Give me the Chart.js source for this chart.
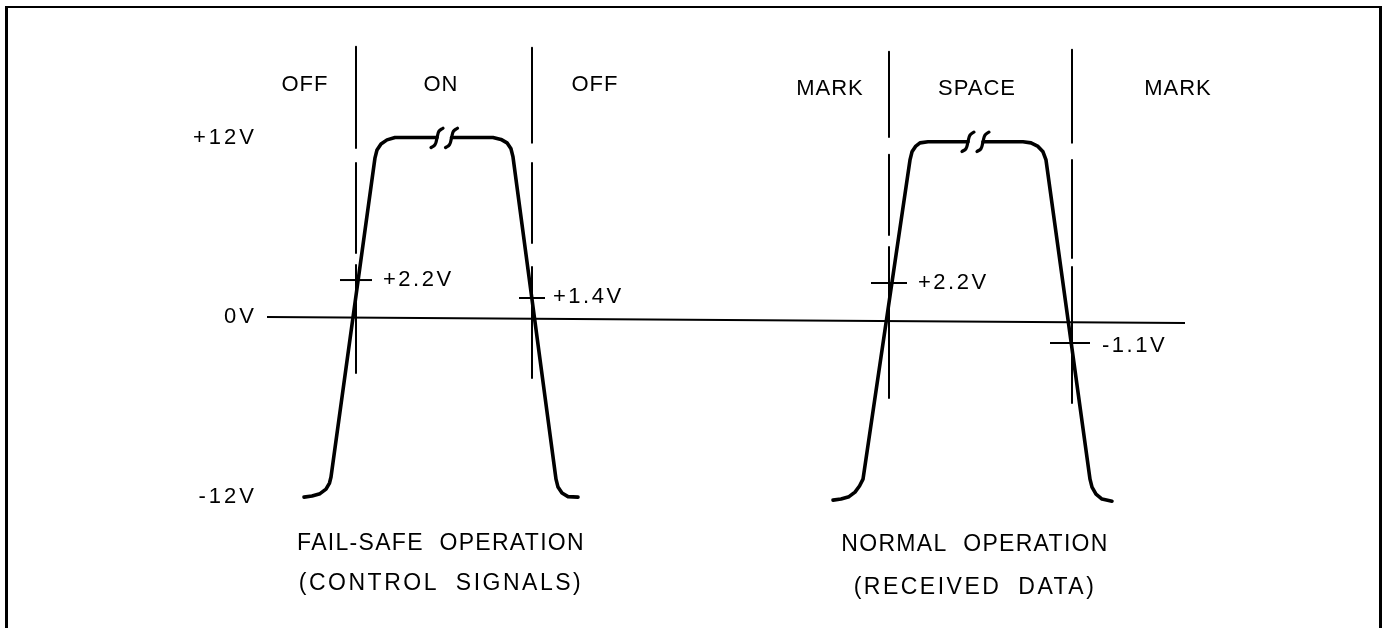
<!DOCTYPE html>
<html><head><meta charset="utf-8">
<script src="https://cdn.jsdelivr.net/npm/chart.js@4/dist/chart.umd.min.js"></script>
<style>
html,body{margin:0;padding:0;background:#fff;overflow:hidden;}
#wrap{position:relative;width:1387px;height:628px;overflow:hidden;}
#frame{position:absolute;left:5px;top:6px;width:1371px;height:700px;border-left:3px solid #000;border-right:3px solid #000;border-top:2px solid #000;pointer-events:none;}
canvas{position:absolute;left:0;top:0;}
</style></head><body>
<div id="wrap"><canvas id="c" width="1387" height="628"></canvas><div id="frame"></div></div>
<script>
// ---- data (x: time units, y: volts) ----
const yTickValues = [-12, 0, 12];
const yTickLabels = ['-12V', '0V', '+12V'];

const zeroLineX = [0, 91.8];
const zeroLineY = [0, -0.4];

const failSafeRiseX = [3.7, 4.5, 5.3, 5.9, 6.25, 6.4, 10.8, 11.0, 11.4, 12.0, 12.8, 17.0];
const failSafeRiseY = [-12.04, -11.97, -11.81, -11.51, -11.10, -10.70, 10.64, 11.17, 11.57, 11.84, 12, 12];
const failSafeFallX = [18.45, 22.6, 23.4, 24.0, 24.4, 24.6, 28.9, 29.1, 29.5, 30.1, 31.1];
const failSafeFallY = [12, 12, 11.87, 11.64, 11.24, 10.70, -10.84, -11.37, -11.77, -12.01, -12.04];

const normalRiseX = [56.6, 57.4, 58.2, 58.8, 59.25, 59.6, 64.3, 64.5, 64.85, 65.3, 66.1, 70.1];
const normalRiseY = [-12.24, -12.17, -12.01, -11.71, -11.30, -10.84, 10.50, 11.04, 11.40, 11.64, 11.71, 11.71];
const normalFallX = [71.6, 75.6, 76.4, 77.1, 77.6, 77.9, 82.3, 82.5, 82.9, 83.5, 84.5];
const normalFallY = [11.71, 11.71, 11.64, 11.40, 11.04, 10.50, -10.84, -11.37, -11.84, -12.17, -12.31];

// break marks on the flat tops
const breakAX = [17.6, 17.2, 17.0, 16.8, 16.4];
const breakAY = [12.62, 12.42, 11.97, 11.52, 11.32];
const breakBX = [19.05, 18.65, 18.45, 18.25, 17.85];
const breakBY = [12.62, 12.42, 11.97, 11.52, 11.32];
const breakCX = [70.7, 70.3, 70.1, 69.9, 69.5];
const breakCY = [12.36, 12.16, 11.71, 11.26, 11.06];
const breakDX = [72.2, 71.8, 71.6, 71.4, 71.0];
const breakDY = [12.36, 12.16, 11.71, 11.26, 11.06];

// dashed vertical boundaries: x and [top,bottom] segments
const dividerX = [8.9, 26.5, 62.2, 80.5];
const dividerSegs = [
  [[18.06, 11.30], [10.30, 4.28], [3.48, -3.75]],
  [[17.99, 11.64], [10.30, 4.95], [3.34, -4.08]],
  [[17.73, 12.04], [10.84, 5.48], [4.68, -5.42]],
  [[17.86, 11.64], [10.50, 3.95], [3.34, -5.75]]
];

// threshold tick marks
const threshX1 = [7.3, 25.2, 60.4, 78.3];
const threshX2 = [10.5, 27.8, 64.0, 82.3];
const threshY = [2.47, 1.27, 2.27, -1.74];
const threshLabels = ['+2.2V', '+1.4V', '+2.2V', '-1.1V'];
const threshLabelX = [11.6, 28.6, 65.1, 83.5];
const threshLabelY = [2.47, 1.34, 2.27, -1.91];

// state labels
const regionLabels = ['OFF', 'ON', 'OFF', 'MARK', 'SPACE', 'MARK'];
const regionX = [3.8, 17.4, 32.8, 56.3, 71.0, 91.1];
const regionY = [15.52, 15.52, 15.52, 15.22, 15.22, 15.22];

// captions
const captionLines = ['FAIL-SAFE OPERATION', '(CONTROL SIGNALS)', 'NORMAL OPERATION', '(RECEIVED DATA)'];
const captionX = [17.4, 17.4, 70.8, 70.8];
const captionY = [-15.12, -17.83, -15.25, -18.06];

// ---- build ----
const pts = (xs, ys) => xs.map((x, i) => ({x: x, y: ys[i]}));
const line = (data, w, extra) => Object.assign({
  data: data, borderColor: '#000', backgroundColor: '#000', borderWidth: w,
  pointRadius: 0, showLine: true, tension: 0, fill: false,
  borderCapStyle: 'round', borderJoinStyle: 'round', spanGaps: false
}, extra || {});

const datasets = [];
datasets.push(line(pts(zeroLineX, zeroLineY), 2, {borderCapStyle: 'butt'}));
datasets.push(line(pts(failSafeRiseX, failSafeRiseY), 3.6));
datasets.push(line(pts(failSafeFallX, failSafeFallY), 3.6));
datasets.push(line(pts(normalRiseX, normalRiseY), 3.6));
datasets.push(line(pts(normalFallX, normalFallY), 3.6));
[[breakAX, breakAY], [breakBX, breakBY], [breakCX, breakCY], [breakDX, breakDY]].forEach(b => {
  datasets.push(line(pts(b[0], b[1]), 3.2, {tension: 0.45}));
});
dividerX.forEach((dx, i) => {
  const d = [];
  dividerSegs[i].forEach(s => { d.push({x: dx, y: s[0]}); d.push({x: dx, y: s[1]}); d.push({x: dx, y: null}); });
  datasets.push(line(d, 2, {borderCapStyle: 'butt'}));
});
threshY.forEach((ty, i) => {
  datasets.push(line([{x: threshX1[i], y: ty}, {x: threshX2[i], y: ty}], 2, {borderCapStyle: 'butt'}));
});

const FONT = '"Liberation Sans", Arial, Helvetica, sans-serif';
const labelsPlugin = {
  id: 'diagramLabels',
  beforeDraw(chart) { chart.ctx.letterSpacing = '3px'; },
  afterDatasetsDraw(chart) {
    const ctx = chart.ctx, xs = chart.scales.x, ys = chart.scales.y;
    ctx.save();
    ctx.fillStyle = '#000';
    ctx.textBaseline = 'middle';
    ctx.font = '22px ' + FONT;
    ctx.letterSpacing = '1px';
    ctx.textAlign = 'center';
    regionLabels.forEach((t, i) => ctx.fillText(t, xs.getPixelForValue(regionX[i]), ys.getPixelForValue(regionY[i])));
    ctx.textAlign = 'left';
    ctx.letterSpacing = '2.5px';
    threshLabels.forEach((t, i) => ctx.fillText(t, xs.getPixelForValue(threshLabelX[i]), ys.getPixelForValue(threshLabelY[i])));
    ctx.textAlign = 'center';
    ctx.font = '23px ' + FONT;
    try { ctx.wordSpacing = '8px'; } catch (e) {}
    captionLines.forEach((t, i) => {
      ctx.letterSpacing = (i % 2 === 0) ? '1.3px' : '2.5px';
      ctx.fillText(t, xs.getPixelForValue(captionX[i]), ys.getPixelForValue(captionY[i]));
    });
    ctx.restore();
  }
};

new Chart(document.getElementById('c').getContext('2d'), {
  type: 'scatter',
  data: {datasets: datasets},
  options: {
    responsive: false, animation: false, events: [],
    layout: {padding: 0},
    plugins: {legend: {display: false}, tooltip: {enabled: false}},
    scales: {
      x: {type: 'linear', min: 0, max: 112, display: false},
      y: {
        type: 'linear', min: -20.79, max: 21.19, position: 'left',
        grid: {display: false, drawTicks: false}, border: {display: false},
        ticks: {
          font: {family: FONT, size: 22}, color: '#000', padding: 10,
          callback: (v) => { const k = yTickValues.indexOf(v); return k >= 0 ? yTickLabels[k] : ''; }
        },
        afterBuildTicks: (s) => { s.ticks = yTickValues.map(v => ({value: v})); },
        afterFit: (s) => { s.width = 267; s.paddingTop = 0; s.paddingBottom = 0; }
      }
    }
  },
  plugins: [labelsPlugin]
});
</script>
</body></html>
